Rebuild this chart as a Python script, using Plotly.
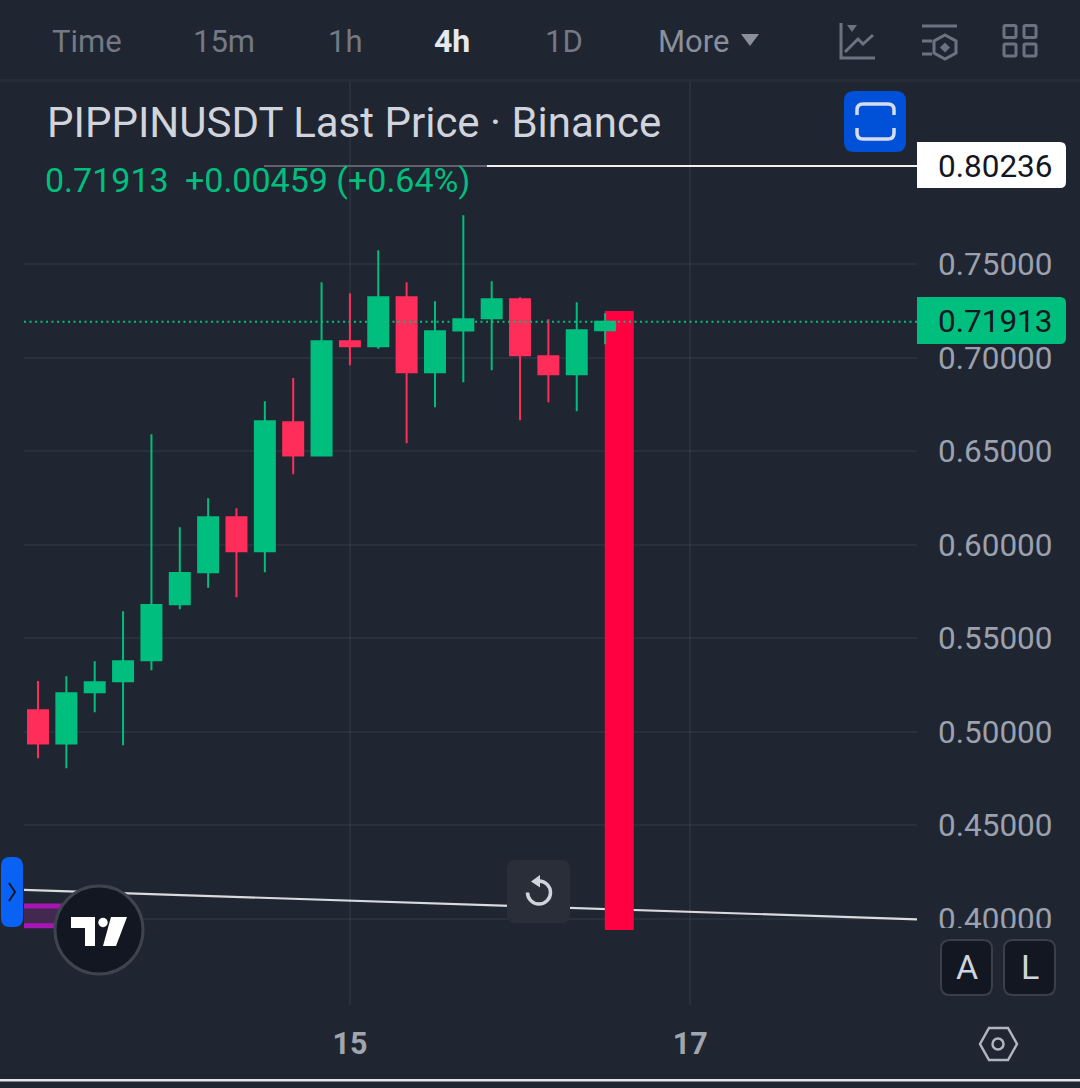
import re

import pandas as pd
import plotly.graph_objects as go

W = 1080
H = 1088

# 4h candles, first one 13th 04:00
candle_times = pd.date_range('2026-01-13 04:00', periods=21, freq='4h')
opens = [0.5115, 0.4938, 0.5211, 0.5270, 0.5382, 0.5681, 0.5852, 0.6147, 0.5965, 0.6654, 0.6477,
         0.7087, 0.7060, 0.7322, 0.6921, 0.7145, 0.7210, 0.7312, 0.7007, 0.6910, 0.71454]
highs = [0.5272, 0.5297, 0.5377, 0.5644, 0.6590, 0.6093, 0.6248, 0.6195, 0.6766, 0.6891, 0.7402,
         0.7343, 0.7573, 0.7402, 0.7301, 0.7760, 0.7408, 0.7322, 0.7205, 0.7295, 0.7237]
lows = [0.4859, 0.4805, 0.5105, 0.4928, 0.5329, 0.5655, 0.5770, 0.5719, 0.5853, 0.6376, 0.6472,
        0.6959, 0.7047, 0.6542, 0.6734, 0.6868, 0.6932, 0.6665, 0.6761, 0.6713, 0.7071]
closes = [0.4938, 0.5206, 0.5265, 0.5377, 0.5677, 0.5848, 0.6147, 0.5965, 0.6660, 0.6477, 0.7087,
          0.7060, 0.7322, 0.6921, 0.7141, 0.7205, 0.7312, 0.7012, 0.6910, 0.7146, 0.71913]

# the tall red block right of the last candle
block_time = '2026-01-16 14:00'
block_top = 0.7249
block_bottom = 0.3941

last_price = 0.71913
line_price = 0.80236
trend_start = 0.4155
trend_end = 0.3998
purple_top = 0.4069
purple_bottom = 0.3963

price_ticks = [0.40, 0.45, 0.50, 0.55, 0.60, 0.65, 0.70, 0.75]
price_labels = ['0.40000', '0.45000', '0.50000', '0.55000', '0.60000', '0.65000', '0.70000', '0.75000']
date_ticks = ['2026-01-15', '2026-01-17']
date_labels = ['15', '17']
toolbar_items = ['Time', '15m', '1h', '4h', '1D', 'More']
toolbar_x = [87, 224, 345, 452, 564, 693]

BG = '#1f2531'
GRID = 'rgba(255,255,255,0.05)'
GREEN = '#00bf7e'
RED = '#ff2d5a'
BLOCK = '#ff0040'
FONT = 'Roboto'


def px(x):
    return x / W


def py(y):
    return 1 - y / H


def to_paper(path):
    # path written in screen pixels, converted to paper coords
    out = []
    is_x = True
    for tok in path.split():
        if re.match(r'^[A-Z]$', tok):
            out.append(tok)
            is_x = True
        elif is_x:
            out.append(str(px(float(tok))))
            is_x = False
        else:
            out.append(str(py(float(tok))))
            is_x = True
    return ' '.join(out)


def rrect(x0, y0, x1, y1, r):
    return (f'M {x0 + r} {y0} L {x1 - r} {y0} Q {x1} {y0} {x1} {y0 + r} L {x1} {y1 - r} '
            f'Q {x1} {y1} {x1 - r} {y1} L {x0 + r} {y1} Q {x0} {y1} {x0} {y1 - r} '
            f'L {x0} {y0 + r} Q {x0} {y0} {x0 + r} {y0} Z')


shapes = []
annotations = []


def add_path(path, fill=None, line=None, width=0):
    shapes.append(dict(type='path', xref='paper', yref='paper', path=to_paper(path),
                       fillcolor=fill if fill else 'rgba(0,0,0,0)',
                       line=dict(color=line if line else 'rgba(0,0,0,0)', width=width)))


def add_circle(cx, cy, r, fill=None, line=None, width=0):
    shapes.append(dict(type='circle', xref='paper', yref='paper',
                       x0=px(cx - r), x1=px(cx + r), y0=py(cy + r), y1=py(cy - r),
                       fillcolor=fill if fill else 'rgba(0,0,0,0)',
                       line=dict(color=line if line else 'rgba(0,0,0,0)', width=width)))


def add_text(text, x, y, size, color, anchor='center', weight=400):
    annotations.append(dict(text=text, x=px(x), y=py(y), xref='paper', yref='paper',
                            xanchor=anchor, yanchor='middle', showarrow=False,
                            font=dict(family=FONT, size=size, color=color, weight=weight)))


# lines that sit under the candles
shapes.append(dict(type='line', xref='paper', yref='y', x0=px(24), x1=px(917),
                   y0=trend_start, y1=trend_end, layer='below',
                   line=dict(color='#d8dade', width=2.2)))

# price line, grey where the legend covers it
shapes.append(dict(type='line', xref='paper', yref='y', x0=px(264), x1=px(487),
                   y0=line_price, y1=line_price, line=dict(color='#5f636c', width=2)))
shapes.append(dict(type='line', xref='paper', yref='y', x0=px(487), x1=px(917),
                   y0=line_price, y1=line_price, line=dict(color='#f0f0f0', width=2)))

# purple box at the left edge
shapes.append(dict(type='rect', xref='paper', yref='y', x0=px(24), x1=px(90),
                   y0=purple_bottom, y1=purple_top, fillcolor='#43284f',
                   line=dict(width=0)))
for v in [purple_top, purple_bottom]:
    shapes.append(dict(type='line', xref='paper', yref='y', x0=px(24), x1=px(90),
                       y0=v, y1=v, line=dict(color='#a516b2', width=5)))

# toolbar
add_path(f'M 0 79 L {W} 79 L {W} 82 L 0 82 Z', fill='#262c38')
for name, x in zip(toolbar_items, toolbar_x):
    if name == '4h':
        add_text(name, x, 41, 32, '#e6e8ec', weight=700)
    elif name == 'More':
        add_text(name, x, 41, 31, '#8a8f9b')
    else:
        add_text(name, x, 41, 31, '#747985')
add_path('M 741 34 L 759 34 L 750 46 Z', fill='#8a8f9b')

# chart-type icon
ICON = '#6c7380'
add_path('M 841 23 L 841 58 L 875 58', line=ICON, width=3)
add_path('M 847 25 L 857 25 L 852 32 Z', fill=ICON)
add_path('M 845 52 L 858 39 L 863 44 L 873 35', line=ICON, width=3)
# indicators icon
add_path('M 922 26 L 957 26', line=ICON, width=3)
add_path('M 922 41 L 932 41', line=ICON, width=3)
add_path('M 922 54 L 932 54', line=ICON, width=3)
add_path('M 945 35 L 956 41 L 956 53 L 945 59 L 934 53 L 934 41 Z', line=ICON, width=3)
add_path('M 945 42.5 L 950 47.5 L 945 52.5 L 940 47.5 Z', fill=ICON)
# layout icon
for x0, y0 in [(1004, 25.5), (1024, 25.5), (1004, 44), (1024, 44)]:
    add_path(rrect(x0, y0, x0 + 12, y0 + 12, 1.5), line=ICON, width=3)

# fullscreen button
add_path(rrect(844, 91, 906, 152, 10), fill='#0050d8')
add_path('M 857 115 L 857 110 Q 857 104 863 104 L 888 104 Q 894 104 894 110 L 894 115',
         line='#d6dcec', width=3.5)
add_path('M 857 128 L 857 133 Q 857 139 863 139 L 888 139 Q 894 139 894 133 L 894 128',
         line='#d6dcec', width=3.5)

# legend
add_text('PIPPINUSDT Last Price · Binance', 45, 123, 42, '#d1d4dc', anchor='left')
add_text('0.71913', 43, 180, 34, GREEN, anchor='left')
add_text('+0.00459 (+0.64%)', 183, 180, 34, GREEN, anchor='left')

# price tags
add_path('M 917 142 L 1060 142 Q 1066 142 1066 148 L 1066 182 Q 1066 188 1060 188 L 917 188 Z', fill='#ffffff')
add_text('0.80236', 1055, 166, 31.5, '#131722', anchor='right')
add_path('M 917 297 L 1060 297 Q 1066 297 1066 303 L 1066 338 Q 1066 344 1060 344 L 917 344 Z', fill=GREEN)
add_text('0.71913', 1055, 321, 31.5, '#131722', anchor='right')

# covers the bottom of the 0.40000 label
add_path(f'M 917 928 L {W} 928 L {W} 1005 L 917 1005 Z', fill=BG)

# A and L buttons
add_path(rrect(941, 940, 992, 995, 9), fill='#131722', line='#3a3f4b', width=2)
add_path(rrect(1004, 940, 1055, 995, 9), fill='#131722', line='#3a3f4b', width=2)
add_text('A', 966.5, 967, 34, '#d1d4dc')
add_text('L', 1029.5, 967, 34, '#d1d4dc')

# settings hexagon
add_path('M 980 1044 L 989 1028 L 1008 1028 L 1017 1044 L 1008 1060 L 989 1060 Z', line='#b2b5be', width=2.5)
add_circle(998, 1044, 5.5, line='#b2b5be', width=2.5)

# reset button
add_path(rrect(507, 860, 570, 923, 9), fill='#2a2e39')
add_path('M 539 881 C 545.35 881 550.5 886.15 550.5 892.5 C 550.5 898.85 545.35 904 539 904 '
         'C 532.65 904 527.5 898.85 527.5 892.5', line='#d1d4dc', width=3.5)
add_path('M 531 881.5 L 540 875 L 540 887.5 Z', fill='#d1d4dc')

# side handle
add_path(rrect(1, 857, 23, 927, 9), fill='#0a62f5')
add_path('M 9 883 L 15 892 L 9 901', line='#131722', width=2)

# TradingView badge
add_circle(99, 930, 44, fill='#131722', line='#3f434e', width=3)
add_path('M 71 917 L 95 917 L 95 946 L 85 946 L 85 928 L 71 928 Z', fill='#ffffff')
add_circle(103, 922.5, 4.7, fill='#ffffff')
add_path('M 111 917 L 127 917 L 116 946 L 103 946 Z', fill='#ffffff')

# bottom edge
add_path(f'M 0 1079 L {W} 1079 L {W} 1081.5 L 0 1081.5 Z', fill='#e2e4e8')

fig = go.Figure()

fig.add_trace(go.Bar(
    x=[block_time],
    y=[block_top - block_bottom],
    base=[block_bottom],
    width=[4.09 * 3600 * 1000],
    marker=dict(color=BLOCK, line=dict(width=0)),
    hoverinfo='skip'
))

fig.add_trace(go.Candlestick(
    x=candle_times,
    open=opens,
    high=highs,
    low=lows,
    close=closes,
    whiskerwidth=0,
    increasing=dict(line=dict(color=GREEN, width=2), fillcolor=GREEN),
    decreasing=dict(line=dict(color=RED, width=2), fillcolor=RED)
))

start = candle_times[0] - pd.Timedelta(hours=1.976)
end = candle_times[0] + pd.Timedelta(hours=124)

fig.add_trace(go.Scatter(
    x=[start, end],
    y=[last_price, last_price],
    mode='lines',
    line=dict(color=GREEN, width=2, dash='2px,3.5px'),
    hoverinfo='skip'
))

fig.update_layout(
    width=W,
    height=H,
    autosize=False,
    margin=dict(l=0, r=0, t=0, b=0),
    paper_bgcolor=BG,
    plot_bgcolor=BG,
    showlegend=False,
    boxgap=0.295,
    boxgroupgap=0,
    shapes=shapes,
    annotations=annotations,
    xaxis=dict(
        domain=[px(24), px(917)],
        type='date',
        range=[start, end],
        rangeslider=dict(visible=False),
        tickmode='array',
        tickvals=date_ticks,
        ticktext=date_labels,
        ticks='',
        ticklabelstandoff=17,
        tickfont=dict(family=FONT, size=30.5, color='#a0a5b0', weight=700),
        showgrid=True,
        gridcolor=GRID,
        gridwidth=1.5,
        zeroline=False,
        showline=False
    ),
    yaxis=dict(
        domain=[py(1005), py(80)],
        side='right',
        range=[0.3540, 0.8483],
        tickmode='array',
        tickvals=price_ticks,
        ticktext=price_labels,
        ticks='',
        ticklabelstandoff=20,
        tickfont=dict(family=FONT, size=31.5, color='#9ba1ae'),
        showgrid=True,
        gridcolor=GRID,
        gridwidth=1.5,
        zeroline=False,
        showline=False
    )
)

fig.write_html('out.html', post_script="document.body.style.margin='0';document.body.style.overflow='hidden';",
               config=dict(displayModeBar=False))
